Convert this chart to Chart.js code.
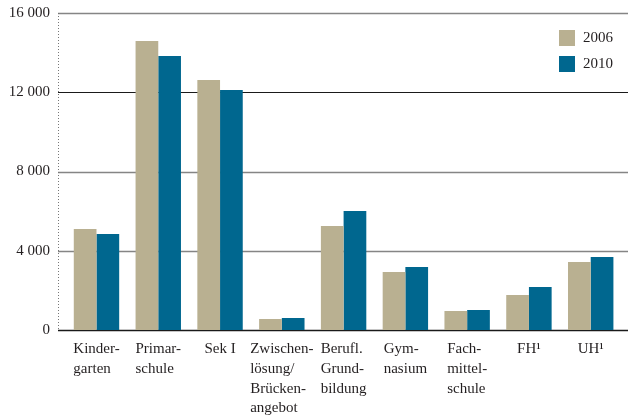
<!DOCTYPE html>
<html>
<head>
<meta charset="utf-8">
<script src="https://cdn.jsdelivr.net/npm/chart.js@4/dist/chart.umd.min.js"></script>
<style>
  html, body { margin: 0; padding: 0; background: #fff; }
  #wrap { width: 628px; height: 416px; }
</style>
</head>
<body>
<div id="wrap"><canvas id="c" width="628" height="416"></canvas></div>
<script>
const categories = [
  ["Kinder-", "garten"],
  ["Primar-", "schule"],
  ["Sek I"],
  ["Zwischen-", "lösung/", "Brücken-", "angebot"],
  ["Berufl.", "Grund-", "bildung"],
  ["Gym-", "nasium"],
  ["Fach-", "mittel-", "schule"],
  ["FH¹"],
  ["UH¹"]
];
const series2006 = [5100, 14590, 12620, 560, 5250, 2930, 960, 1770, 3430];
const series2010 = [4850, 13830, 12110, 610, 6010, 3180, 1010, 2170, 3690];
const seriesNames = ["2006", "2010"];
const yTicks = [0, 4000, 8000, 12000, 16000];
const colors = ["#b9b091", "#00678f"];

const FONT = "'Liberation Serif', 'DejaVu Serif', serif";

const customDraw = {
  id: 'customDraw',
  beforeDatasetsDraw(chart) {
    const ctx = chart.ctx;
    const y = chart.scales.y;
    ctx.save();
    // gridlines
    yTicks.forEach(v => {
      const py = Math.round(y.getPixelForValue(v)) + 0.5;
      const dark = (v === 0 || v === 12000);
      ctx.strokeStyle = dark ? '#1a1a1a' : '#858585';
      ctx.lineWidth = v === 12000 ? 1 : 1.6;
      ctx.beginPath();
      ctx.moveTo(58, py);
      ctx.lineTo(628, py);
      ctx.stroke();
    });
    // dotted left axis
    ctx.strokeStyle = '#777';
    ctx.lineWidth = 1;
    ctx.setLineDash([1, 2]);
    ctx.beginPath();
    ctx.moveTo(58.5, y.getPixelForValue(16000));
    ctx.lineTo(58.5, y.getPixelForValue(0));
    ctx.stroke();
    ctx.setLineDash([]);
    ctx.restore();
  },
  afterDraw(chart) {
    const ctx = chart.ctx;
    const x = chart.scales.x;
    const y = chart.scales.y;
    ctx.save();
    ctx.fillStyle = '#231f20';
    ctx.font = "15px " + FONT;
    ctx.textBaseline = 'middle';
    // y tick labels
    ctx.textAlign = 'right';
    yTicks.forEach(v => {
      const label = v === 0 ? '0' : (Math.floor(v / 1000) + '\u2009000').replace('\u2009', ' ');
      ctx.fillText(label, 50, y.getPixelForValue(v));
    });
    // category labels: block centered, lines left-aligned
    ctx.textAlign = 'left';
    const y0 = y.getPixelForValue(0);
    categories.forEach((lines, i) => {
      const cx = x.getPixelForValue(i);
      const w = Math.max(...lines.map(l => ctx.measureText(l).width));
      const left = cx - w / 2;
      lines.forEach((l, j) => {
        ctx.fillText(l, left, y0 + 19 + j * 19.8);
      });
    });
    // legend
    chart.data.datasets.forEach((ds, i) => {
      const top = 30 + i * 26;
      ctx.fillStyle = ds.backgroundColor;
      ctx.fillRect(559, top, 16, 16);
      ctx.fillStyle = '#231f20';
      ctx.fillText(ds.label, 583, top + 8.5);
    });
    ctx.restore();
  }
};

new Chart(document.getElementById('c'), {
  type: 'bar',
  data: {
    labels: categories.map(c => c.join(' ')),
    datasets: [
      { label: seriesNames[0], data: series2006, backgroundColor: colors[0] },
      { label: seriesNames[1], data: series2010, backgroundColor: colors[1] }
    ]
  },
  options: {
    responsive: false,
    animation: false,
    devicePixelRatio: 1,
    layout: { padding: { left: 65.6, right: 6.4, top: 13, bottom: 86 } },
    plugins: { legend: { display: false }, tooltip: { enabled: false } },
    datasets: { bar: { barPercentage: 1, categoryPercentage: 0.735 } },
    scales: {
      x: { display: false },
      y: { display: false, min: 0, max: 16000 }
    }
  },
  plugins: [customDraw]
});
</script>
</body>
</html>
